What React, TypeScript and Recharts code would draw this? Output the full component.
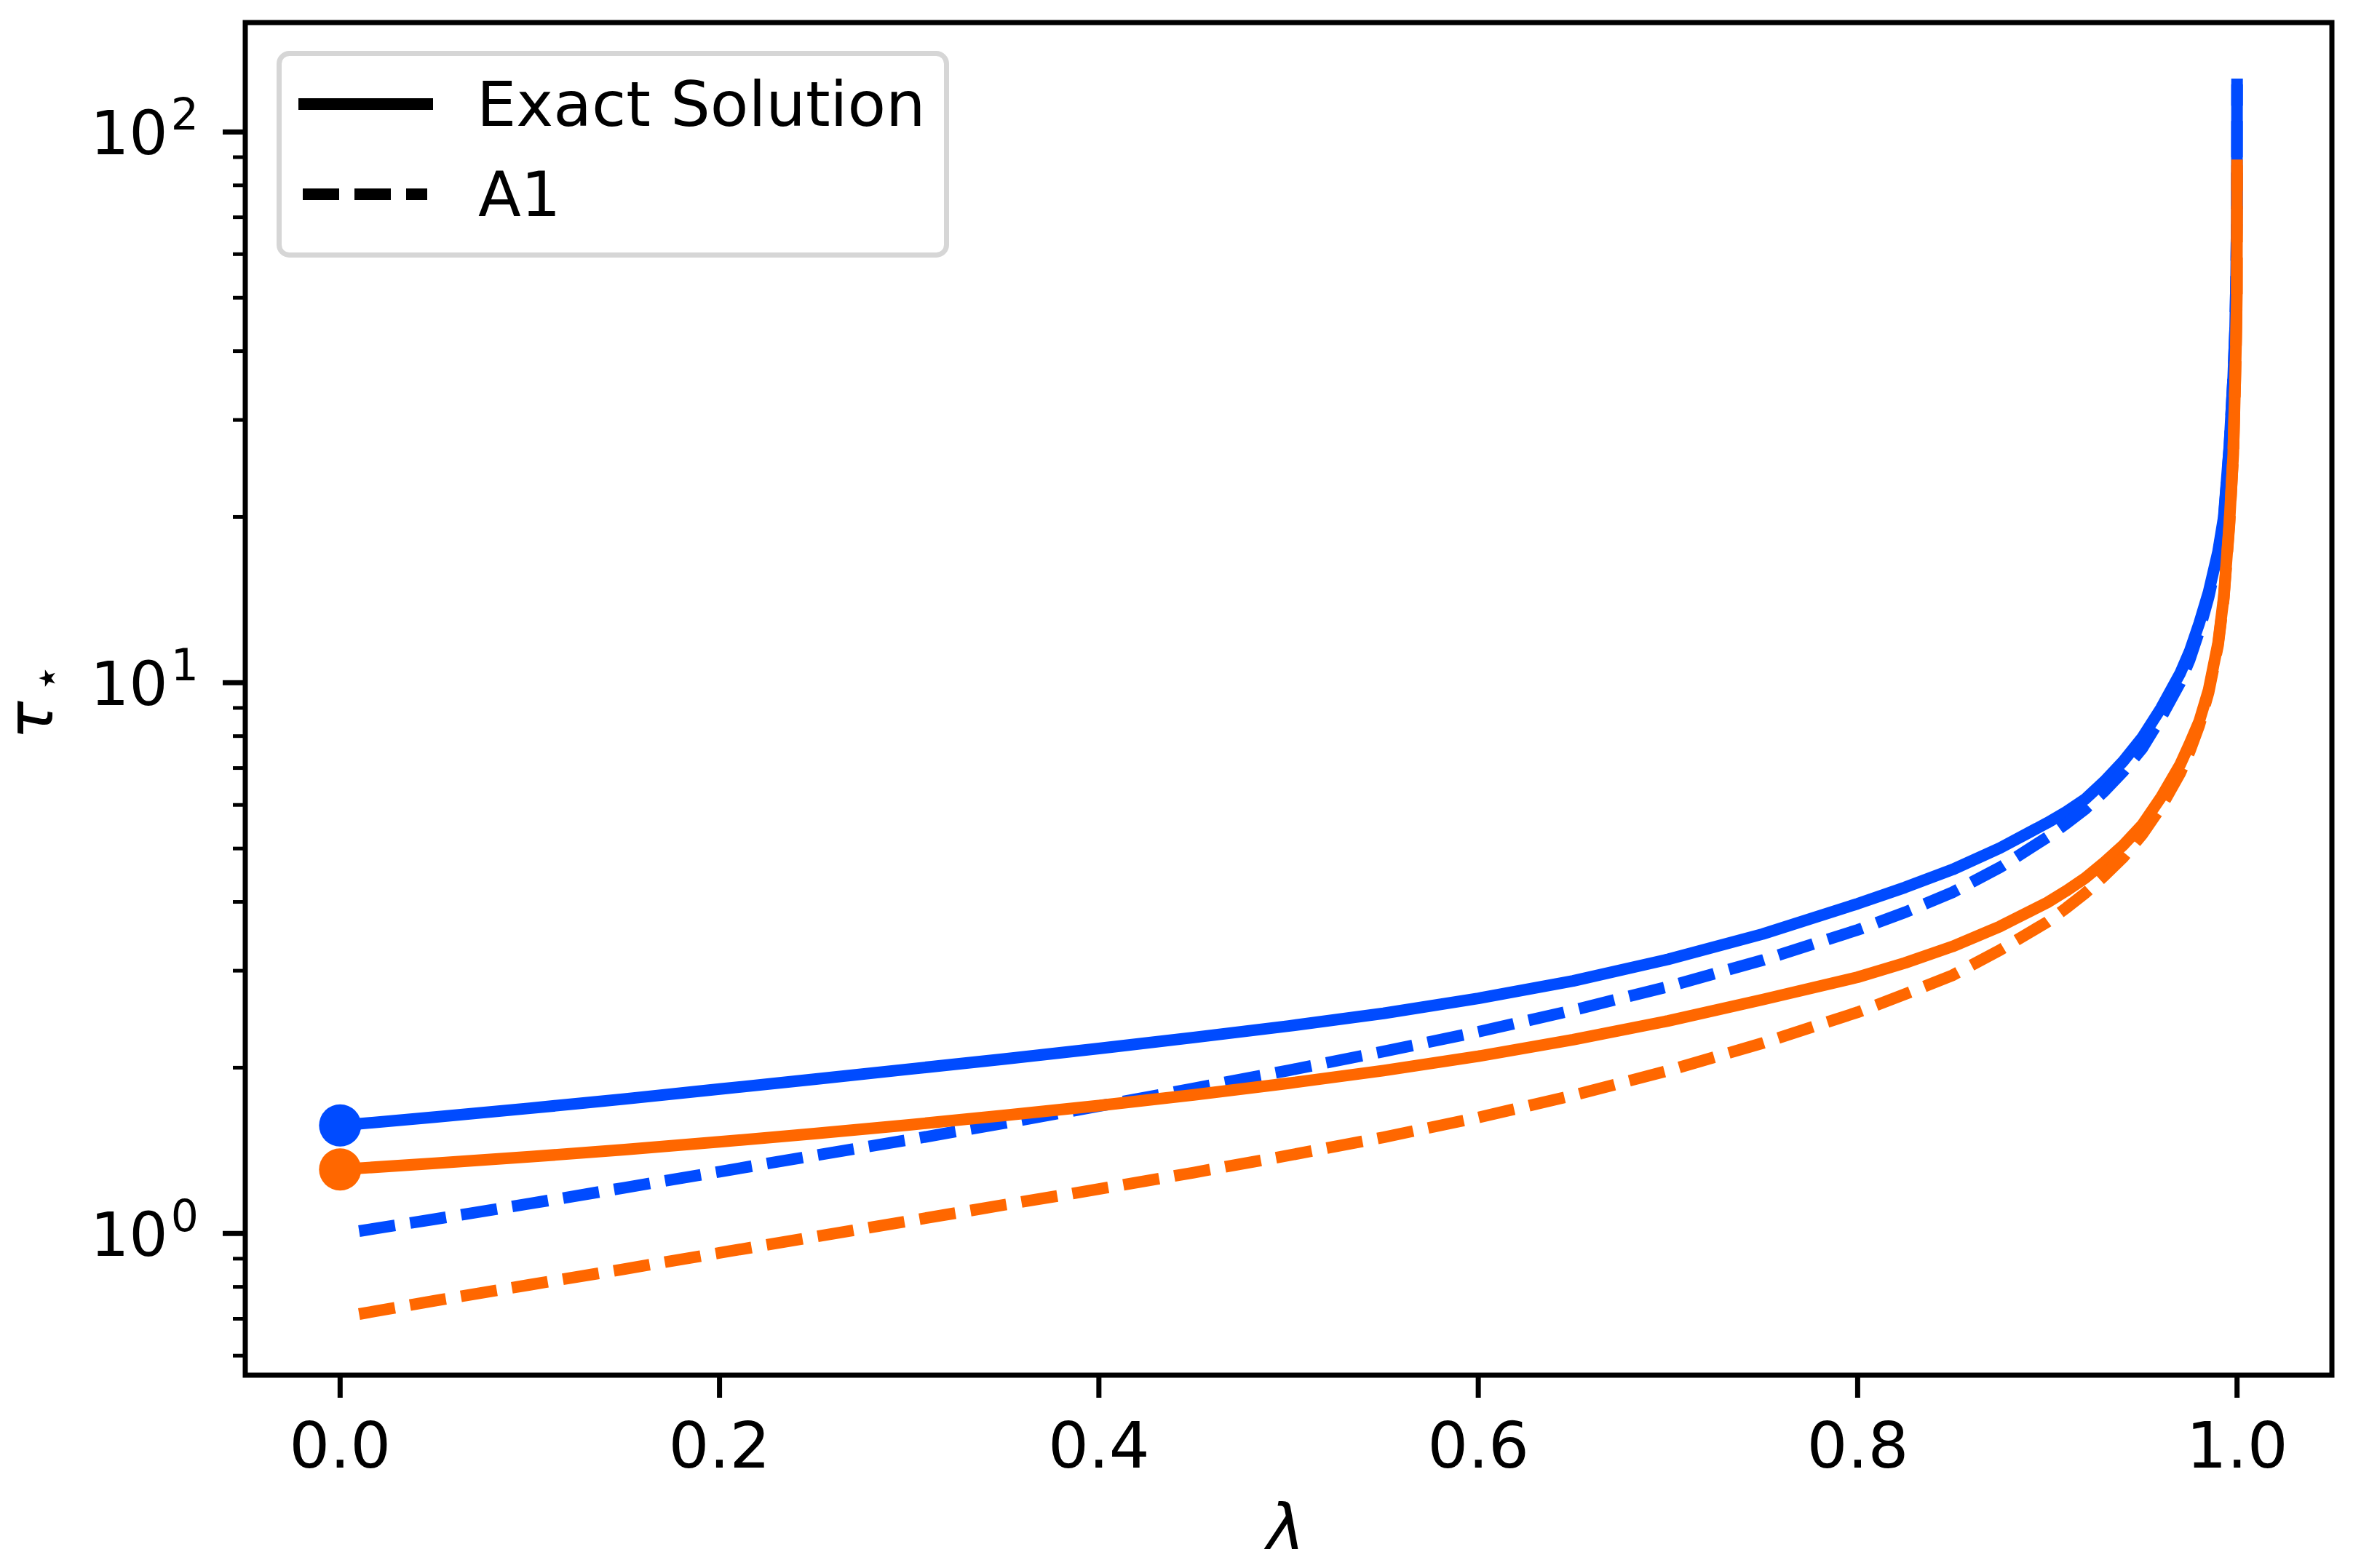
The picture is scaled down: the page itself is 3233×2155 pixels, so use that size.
import React from 'react';
import { LineChart, Line, XAxis, YAxis, Legend, ReferenceArea } from 'recharts';

// lambda grid of the exact solution (marker at lambda = 0)
const lambdaExact = [
  0, 0.05, 0.1, 0.15, 0.2, 0.25, 0.3, 0.35, 0.4, 0.45, 0.5, 0.55, 0.6, 0.65, 0.7, 0.75,
  0.8, 0.825, 0.85, 0.875, 0.9, 0.91, 0.92, 0.93, 0.94, 0.95, 0.96, 0.97, 0.975, 0.98,
  0.985, 0.99, 0.993, 0.996, 0.998, 0.999, 0.9995, 0.9999, 1.0,
];
const exactBlue = [
  1.571, 1.627, 1.688, 1.755, 1.829, 1.906, 1.988, 2.074, 2.167, 2.269, 2.381, 2.51, 2.672, 2.875, 3.146, 3.498,
  3.97, 4.25, 4.579, 5.01, 5.568, 5.83, 6.15, 6.62, 7.2, 7.95, 9.0, 10.4, 11.4, 12.8,
  14.6, 17.3, 20.0, 27.0, 36.0, 44.0, 54.0, 72.0, 122.0,
];
const exactOrange = [
  1.307, 1.341, 1.378, 1.42, 1.467, 1.518, 1.575, 1.638, 1.707, 1.785, 1.874, 1.976, 2.098, 2.248, 2.432, 2.659,
  2.92, 3.1, 3.32, 3.61, 3.99, 4.19, 4.42, 4.72, 5.07, 5.52, 6.2, 7.1, 7.75, 8.5,
  9.7, 11.8, 14.3, 19.6, 26.0, 35.0, 42.0, 51.0, 87.0,
];

// lambda grid of the A1 approximation (starts a little after 0)
const lambdaA1 = [
  0.01, 0.05, 0.1, 0.15, 0.2, 0.25, 0.3, 0.35, 0.4, 0.45, 0.5, 0.55, 0.6, 0.65, 0.7, 0.75,
  0.8, 0.825, 0.85, 0.875, 0.9, 0.91, 0.92, 0.93, 0.94, 0.95, 0.96, 0.97, 0.975, 0.98,
  0.985, 0.99, 0.993, 0.996, 0.998, 0.999, 0.9995, 0.9999, 1.0,
];
const a1Blue = [
  1.01, 1.062, 1.133, 1.211, 1.295, 1.385, 1.48, 1.586, 1.703, 1.834, 1.978, 2.14, 2.324, 2.543, 2.807, 3.136,
  3.558, 3.83, 4.163, 4.62, 5.241, 5.55, 5.9, 6.35, 6.9, 7.6, 8.65, 10.0, 11.0, 12.4,
  14.3, 17.1, 19.8, 26.8, 36.0, 44.0, 54.0, 72.0, 122.0,
];
const a1Orange = [
  0.714, 0.755, 0.807, 0.862, 0.922, 0.986, 1.054, 1.127, 1.204, 1.29, 1.386, 1.495, 1.624, 1.781, 1.975, 2.217,
  2.522, 2.72, 2.943, 3.27, 3.679, 3.9, 4.15, 4.46, 4.82, 5.3, 5.95, 6.85, 7.5, 8.35,
  9.6, 11.7, 14.2, 19.4, 26.0, 35.0, 42.0, 51.0, 87.0,
];

const xTicks = [0, 0.2, 0.4, 0.6, 0.8, 1.0];
const yTicks = [
  0.6, 0.7, 0.8, 0.9, 1, 2, 3, 4, 5, 6, 7, 8, 9, 10, 20, 30, 40, 50, 60, 70, 80, 90, 100,
];
const legendLabels = ['Exact Solution', 'A1'];

const X_DOMAIN = [-0.05, 1.05];
const Y_DOMAIN = [0.553, 158];

const BLUE = '#004BFF';
const ORANGE = '#FF6700';
const FONT = '"DejaVu Sans", sans-serif';
const LW = 16;
const DASH = '50 21';

const toSeries = (xs: number[], ys: number[]) => xs.map((l, i) => ({ lambda: l, tau: ys[i] }));

const blueExactData = toSeries(lambdaExact, exactBlue);
const orangeExactData = toSeries(lambdaExact, exactOrange);
const blueA1Data = toSeries(lambdaA1, a1Blue);
const orangeA1Data = toSeries(lambdaA1, a1Orange);

function XTick(props: any) {
  const { x, y, payload } = props;
  return (
    <g>
      <line x1={x} y1={y} x2={x} y2={y + 31} stroke="#000" strokeWidth={7} />
      <text x={x} y={y + 127} textAnchor="middle" fontSize={88} fontFamily={FONT} fill="#000">
        {Number(payload.value).toFixed(1)}
      </text>
    </g>
  );
}

function YTick(props: any) {
  const { x, y, payload } = props;
  const exp = Math.log10(payload.value);
  const major = Math.abs(exp - Math.round(exp)) < 1e-9;
  return (
    <g>
      <line
        x1={x - (major ? 31 : 17)}
        y1={y}
        x2={x}
        y2={y}
        stroke="#000"
        strokeWidth={major ? 7 : 5}
      />
      {major && (
        <text x={x - 64} y={y + 31} textAnchor="end" fontSize={84} fontFamily={FONT} fill="#000">
          10
          <tspan dx={4} dy={-34} fontSize={60}>
            {Math.round(exp)}
          </tspan>
        </text>
      )}
    </g>
  );
}

const renderXLabel = (props: any) => {
  const vb = props.viewBox;
  return (
    <text
      x={vb.x + vb.width / 2 - 4}
      y={vb.y + 239}
      textAnchor="middle"
      fontSize={88}
      fontStyle="italic"
      fontFamily={FONT}
      fill="#000"
    >
      λ
    </text>
  );
};

const renderYLabel = (props: any) => {
  const vb = props.viewBox;
  const bx = vb.x + 72;
  const by = vb.y + vb.height / 2 + 56;
  return (
    <text
      x={bx}
      y={by}
      transform={`rotate(-90 ${bx} ${by})`}
      textAnchor="start"
      fontSize={88}
      fontFamily={FONT}
      fill="#000"
    >
      <tspan fontStyle="italic">τ</tspan>
      <tspan dx={12} dy={13} fontSize={62}>
        ⋆
      </tspan>
    </text>
  );
};

function LegendBox() {
  return (
    <svg width={924} height={284} style={{ display: 'block' }}>
      <rect
        x={3.5}
        y={3.5}
        width={917}
        height={277}
        rx={14}
        fill="#fff"
        fillOpacity={0.8}
        stroke="#d6d6d6"
        strokeWidth={7}
      />
      <line x1={38} y1={73} x2={207} y2={73} stroke="#000" strokeWidth={LW} strokeLinecap="square" />
      <text x={275} y={103} fontSize={86} fontFamily={FONT} fill="#000">
        {legendLabels[0]}
      </text>
      <line x1={36} y1={197} x2={207} y2={197} stroke="#000" strokeWidth={LW} strokeDasharray={DASH} />
      <text x={277} y={227} fontSize={86} fontFamily={FONT} fill="#000">
        {legendLabels[1]}
      </text>
    </svg>
  );
}

const startMarker = (color: string) => (props: any) => {
  const { cx, cy, index } = props;
  if (index !== 0) return <g key={`dot-${index}`} />;
  return <circle key={`dot-${index}`} cx={cx} cy={cy} r={29} fill={color} />;
};

export default function App() {
  return (
    <div style={{ position: 'absolute', left: 0, top: 0, width: 3233, height: 2155, background: '#fff' }}>
      <LineChart
        width={3233}
        height={2155}
        margin={{ top: 31, right: 29, bottom: 0, left: 0 }}
        style={{ fontFamily: FONT }}
      >
        <XAxis
          dataKey="lambda"
          type="number"
          domain={X_DOMAIN}
          allowDataOverflow
          ticks={xTicks}
          interval={0}
          tickSize={0}
          tickMargin={0}
          axisLine={false}
          tickLine={false}
          tick={XTick}
          height={265}
          label={renderXLabel}
        />
        <YAxis
          type="number"
          scale="log"
          domain={Y_DOMAIN}
          allowDataOverflow
          ticks={yTicks}
          interval={0}
          tickSize={0}
          tickMargin={0}
          axisLine={false}
          tickLine={false}
          tick={YTick}
          width={337}
          label={renderYLabel}
        />
        <ReferenceArea
          x1={X_DOMAIN[0]}
          x2={X_DOMAIN[1]}
          y1={Y_DOMAIN[0]}
          y2={Y_DOMAIN[1]}
          fill="none"
          stroke="#000"
          strokeWidth={7}
          ifOverflow="visible"
        />
        <Line
          data={blueExactData}
          dataKey="tau"
          type="linear"
          stroke={BLUE}
          strokeWidth={LW}
          strokeLinecap="square"
          strokeLinejoin="round"
          dot={startMarker(BLUE)}
          activeDot={false}
          isAnimationActive={false}
        />
        <Line
          data={blueA1Data}
          dataKey="tau"
          type="linear"
          stroke={BLUE}
          strokeWidth={LW}
          strokeDasharray={DASH}
          dot={false}
          activeDot={false}
          isAnimationActive={false}
        />
        <Line
          data={orangeExactData}
          dataKey="tau"
          type="linear"
          stroke={ORANGE}
          strokeWidth={LW}
          strokeLinecap="square"
          strokeLinejoin="round"
          dot={startMarker(ORANGE)}
          activeDot={false}
          isAnimationActive={false}
        />
        <Line
          data={orangeA1Data}
          dataKey="tau"
          type="linear"
          stroke={ORANGE}
          strokeWidth={LW}
          strokeDasharray={DASH}
          dot={false}
          activeDot={false}
          isAnimationActive={false}
        />
        <Legend
          layout="horizontal"
          align="center"
          verticalAlign="middle"
          wrapperStyle={{ left: 380, top: 70, width: 924, height: 284, lineHeight: 0 }}
          content={() => <LegendBox />}
        />
      </LineChart>
    </div>
  );
}
